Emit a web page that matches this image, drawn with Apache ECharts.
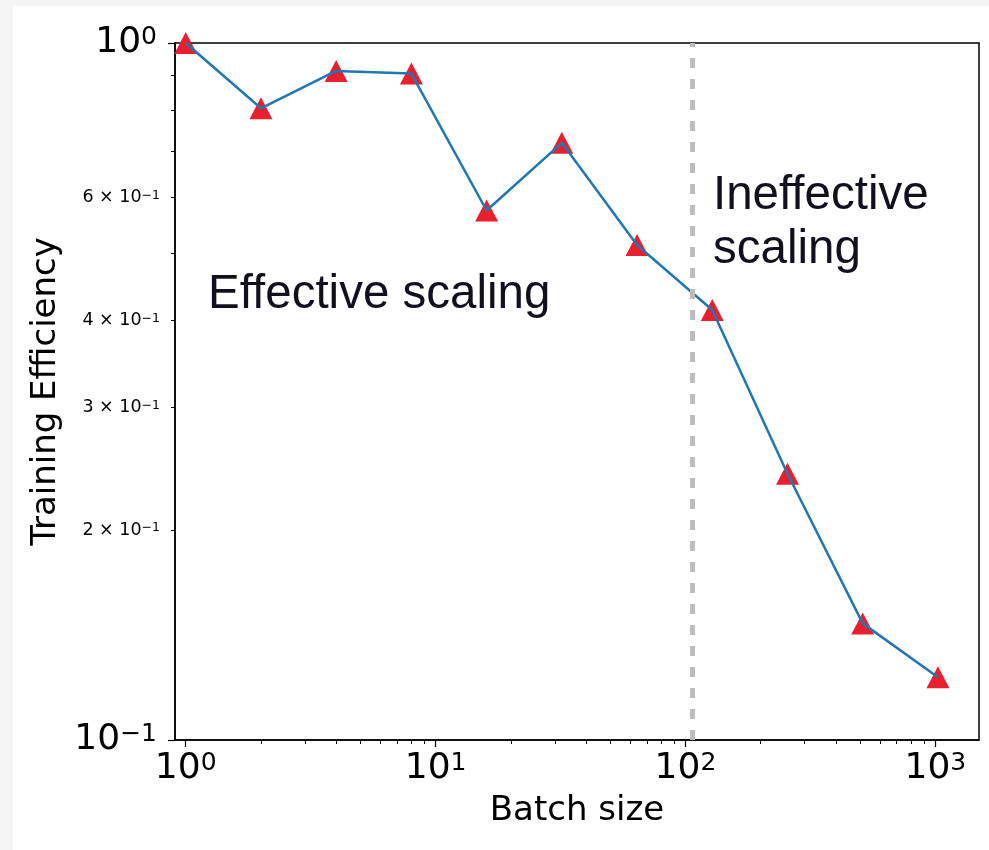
<!DOCTYPE html>
<html>
<head>
    <meta charset="utf-8">
    <title>Training efficiency vs batch size</title>
    <style>
        body { margin: 0; background: #f5f5f5; }
        #chart { position: absolute; left: 13px; top: 6px; width: 976px; height: 844px; background: #fff; }
    </style>
</head>
<body>
    <div id="chart"></div>
    <script src="https://cdn.jsdelivr.net/npm/echarts@6/dist/echarts.min.js"></script>
    <script>
    // data
    var batchSizes = [1, 2, 4, 8, 16, 32, 64, 128, 256, 512, 1024];
    var efficiency = [1.0, 0.806, 0.912, 0.904, 0.575, 0.719, 0.513, 0.414, 0.241, 0.147, 0.123];
    var splitBatch = 106;

    // tick values
    var xMajorTicks = [1, 10, 100, 1000];
    var xMinorTicks = [2, 3, 4, 5, 6, 7, 8, 9, 20, 30, 40, 50, 60, 70, 80, 90, 200, 300, 400, 500, 600, 700, 800, 900];
    var yMajorTicks = [0.1, 1];
    var yMinorTicks = [0.2, 0.3, 0.4, 0.5, 0.6, 0.7, 0.8, 0.9];
    var yMinorLabels = [0.2, 0.3, 0.4, 0.6];

    var xRange = [0.906, 1495];
    var yRange = [0.1, 1];

    var tickFont = 'DejaVu Sans';

    function powLabel(v) {
        var e = Math.round(Math.log10(v));
        return '{b|10}{s|' + String(e).replace('-', '\u2212') + '}';
    }
    function minorLabel(v) {
        return '{b|' + Math.round(v * 10) + ' \u00d7 10}{s|\u22121}';
    }

    var bigRich = {
        b: { fontSize: 36, lineHeight: 36, fontFamily: tickFont, color: '#000' },
        s: { fontSize: 25, lineHeight: 19, fontFamily: tickFont, color: '#000', verticalAlign: 'top' }
    };
    var smallRich = {
        b: { fontSize: 17.5, lineHeight: 17, fontFamily: tickFont, color: '#000' },
        s: { fontSize: 12.5, lineHeight: 14, fontFamily: tickFont, color: '#000', verticalAlign: 'top' }
    };

    var chart = echarts.init(document.getElementById('chart'));

    var option = {
        animation: false,
        grid: {
            left: 162, top: 37, right: 10, bottom: 110,
            show: true, borderColor: '#000', borderWidth: 1.5, backgroundColor: 'transparent'
        },
        xAxis: [{
            type: 'log', logBase: 10, min: xRange[0], max: xRange[1],
            position: 'bottom',
            name: 'Batch size', nameLocation: 'middle', nameGap: 54,
            nameTextStyle: { fontSize: 34, fontFamily: tickFont, color: '#000' },
            axisLine: { show: true, lineStyle: { color: '#000', width: 1.5 } },
            axisTick: { show: true, length: 7, customValues: xMajorTicks, lineStyle: { color: '#000', width: 1.2 } },
            axisLabel: { show: true, margin: 11, customValues: xMajorTicks, formatter: powLabel, rich: bigRich },
            splitLine: { show: false }, minorTick: { show: false }, minorSplitLine: { show: false }
        }, {
            type: 'log', logBase: 10, min: xRange[0], max: xRange[1],
            position: 'bottom',
            axisLine: { show: false },
            axisTick: { show: true, length: 4, customValues: xMinorTicks, lineStyle: { color: '#000' } },
            axisLabel: { show: false },
            splitLine: { show: false }
        }],
        yAxis: [{
            type: 'log', logBase: 10, min: yRange[0], max: yRange[1],
            position: 'left',
            name: 'Training Efficiency', nameLocation: 'middle', nameGap: 108,
            nameTextStyle: { fontSize: 34, fontFamily: tickFont, color: '#000' },
            axisLine: { show: true, lineStyle: { color: '#000', width: 1.5 } },
            axisTick: { show: true, length: 7, customValues: yMajorTicks, lineStyle: { color: '#000', width: 1.2 } },
            axisLabel: { show: true, margin: 18, customValues: yMajorTicks, formatter: powLabel, rich: bigRich },
            splitLine: { show: false }, minorTick: { show: false }, minorSplitLine: { show: false }
        }, {
            type: 'log', logBase: 10, min: yRange[0], max: yRange[1],
            position: 'left',
            axisLine: { show: false },
            axisTick: { show: true, length: 4, customValues: yMinorTicks, lineStyle: { color: '#000' } },
            axisLabel: { show: true, margin: 15, customValues: yMinorLabels, formatter: minorLabel, rich: smallRich },
            splitLine: { show: false }
        }],
        series: [{
            type: 'scatter',
            xAxisIndex: 0, yAxisIndex: 0,
            data: batchSizes.map(function (b, i) { return [b, efficiency[i]]; }),
            symbol: 'triangle',
            symbolSize: [23, 22],
            itemStyle: { color: '#e8202e', opacity: 1 },
            clip: true,
            z: 2,
            silent: true,
            markLine: {
                silent: true,
                symbol: 'none',
                label: { show: false },
                lineStyle: { color: '#bdbdc1', width: 5, type: [10, 11] },
                data: [{ xAxis: splitBatch }]
            }
        }, {
            type: 'line',
            xAxisIndex: 0, yAxisIndex: 0,
            data: batchSizes.map(function (b, i) { return [b, efficiency[i]]; }),
            showSymbol: false,
            lineStyle: { color: '#1f77b4', width: 2.5 },
            clip: true,
            z: 3,
            silent: true
        }],
        graphic: [{
            type: 'text', left: 195, top: 262,
            style: { text: 'Effective scaling', font: '47.5px "Liberation Sans"', fill: '#10101e', lineHeight: 54 }
        }, {
            type: 'text', left: 700, top: 163,
            style: { text: 'Ineffective\nscaling', font: '47.5px "Liberation Sans"', fill: '#10101e', lineHeight: 54 }
        }]
    };

    chart.setOption(option);
    </script>
</body>
</html>
